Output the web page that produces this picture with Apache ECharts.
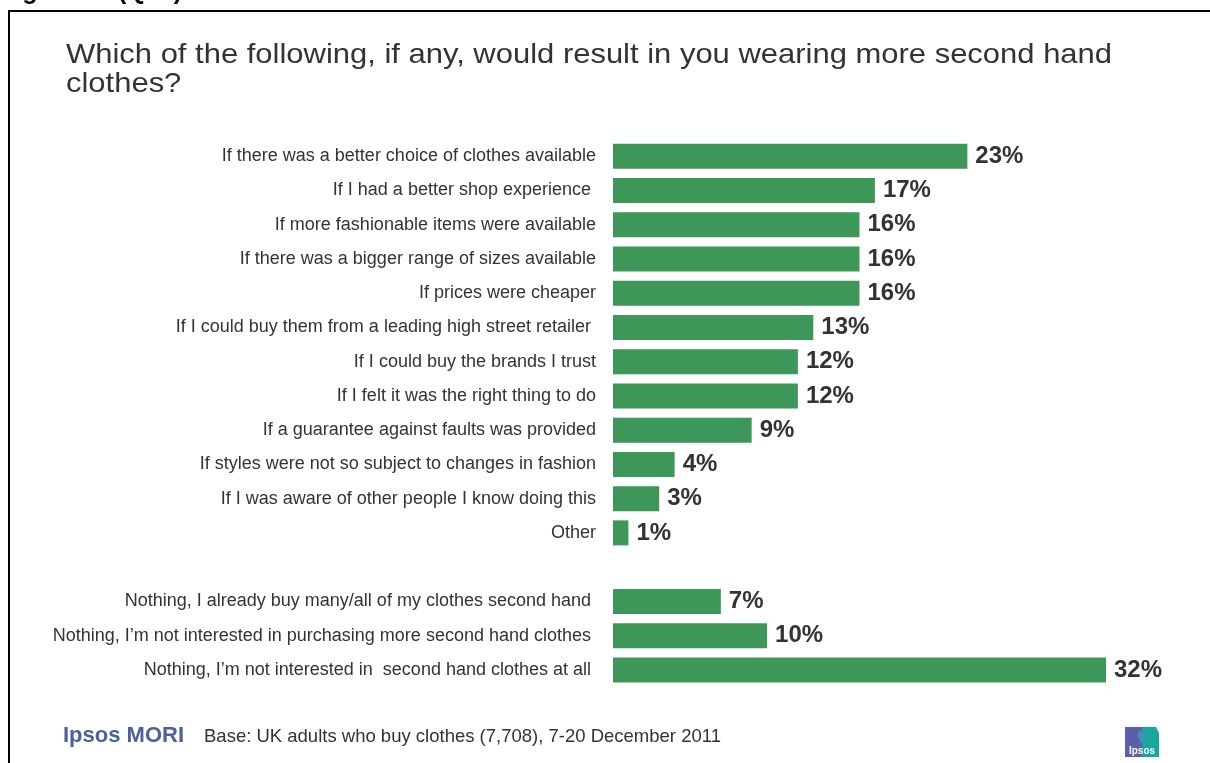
<!DOCTYPE html>
<html>
<head>
<meta charset="utf-8">
<script src="https://cdn.jsdelivr.net/npm/echarts@6/dist/echarts.min.js"></script>
<style>
  html, body { margin: 0; padding: 0; background: #fff; }
  #chart { width: 1210px; height: 763px; }
</style>
</head>
<body>
<div id="chart"></div>
<script>
// Answer options, top to bottom; the empty entry is the spacer row before the "Nothing" group
const categories = [
  'If there was a better choice of clothes available',
  'If I had a better shop experience ',
  'If more fashionable items were available',
  'If there was a bigger range of sizes available',
  'If prices were cheaper',
  'If I could buy them from a leading high street retailer ',
  'If I could buy the brands I trust',
  'If I felt it was the right thing to do',
  'If a guarantee against faults was provided',
  'If styles were not so subject to changes in fashion',
  'If I was aware of other people I know doing this',
  'Other',
  '',
  'Nothing, I already buy many/all of my clothes second hand ',
  'Nothing, I\u2019m not interested in purchasing more second hand clothes ',
  'Nothing, I\u2019m not interested in  second hand clothes at all '
];

// Share of respondents (%), null for the spacer row
const values = [23, 17, 16, 16, 16, 13, 12, 12, 9, 4, 3, 1, null, 7, 10, 32];

const titleText = 'Which of the following, if any, would result in you wearing more second hand\nclothes?';
const figureText = 'Figure 10 (Q13)';
const brandText = 'Ipsos MORI';
const baseText = 'Base: UK adults who buy clothes (7,708), 7-20 December 2011';

const FONT = '"Liberation Sans", Arial, sans-serif';
const GREEN = '#3d9758';

const chart = echarts.init(document.getElementById('chart'), null, { renderer: 'canvas' });

chart.setOption({
  animation: false,
  backgroundColor: '#ffffff',
  grid: { left: 613, top: 139, width: 493, height: 548, containLabel: false },
  xAxis: {
    type: 'value', min: 0, max: 32,
    show: false
  },
  yAxis: {
    type: 'category',
    data: categories,
    inverse: true,
    axisLine: { show: false },
    axisTick: { show: false },
    splitLine: { show: false },
    axisLabel: {
      margin: 17,
      fontFamily: FONT,
      fontSize: 18,
      color: '#333333'
    }
  },
  series: [{
    type: 'bar',
    data: values,
    barWidth: 25,
    itemStyle: { color: GREEN },
    label: {
      show: true,
      position: 'right',
      distance: 8,
      formatter: p => p.value + '%',
      fontFamily: FONT,
      fontSize: 24,
      fontWeight: 'bold',
      color: '#333333'
    }
  }],
  graphic: [
    // page frame
    { type: 'rect', shape: { x: 9, y: 11, width: 1400, height: 900 },
      style: { fill: 'none', stroke: '#000', lineWidth: 2 }, silent: true },
    // figure caption above the frame
    { type: 'text', x: 0, y: -20,
      style: { text: figureText, font: 'bold 25px ' + FONT, fill: '#000' } },
    // question title, set slightly wide
    { type: 'text', x: 66, y: 41, scaleX: 1.106,
      style: { text: titleText, font: '28px ' + FONT, fill: '#333333', lineHeight: 29 } },
    // footer
    { type: 'text', x: 63, y: 725,
      style: { text: brandText, font: 'bold 22px ' + FONT, fill: '#4c5f9e' } },
    { type: 'text', x: 204, y: 727,
      style: { text: baseText, font: '18.5px ' + FONT, fill: '#333333' } },
    // small Ipsos badge
    { type: 'group', x: 1125, y: 727, children: [
      { type: 'polygon', shape: { points: [[0, 0], [17, 0], [17, 30], [0, 30]] },
        style: { fill: '#5b5eab' } },
      { type: 'polygon', shape: { points: [[17, 0], [31, 0], [34, 6], [34, 30], [17, 30]] },
        style: { fill: '#17a79c' } },
      { type: 'circle', shape: { cx: 17, cy: 8, r: 4.5 }, style: { fill: '#3f8fb0' } },
      { type: 'rect', shape: { x: 15, y: 11, width: 4, height: 5 }, style: { fill: '#3f8fb0' } },
      { type: 'text', style: { x: 17, y: 24, text: 'Ipsos', font: 'bold 10px ' + FONT,
        fill: '#ffffff', align: 'center', verticalAlign: 'middle' } }
    ] }
  ]
});
</script>
</body>
</html>
